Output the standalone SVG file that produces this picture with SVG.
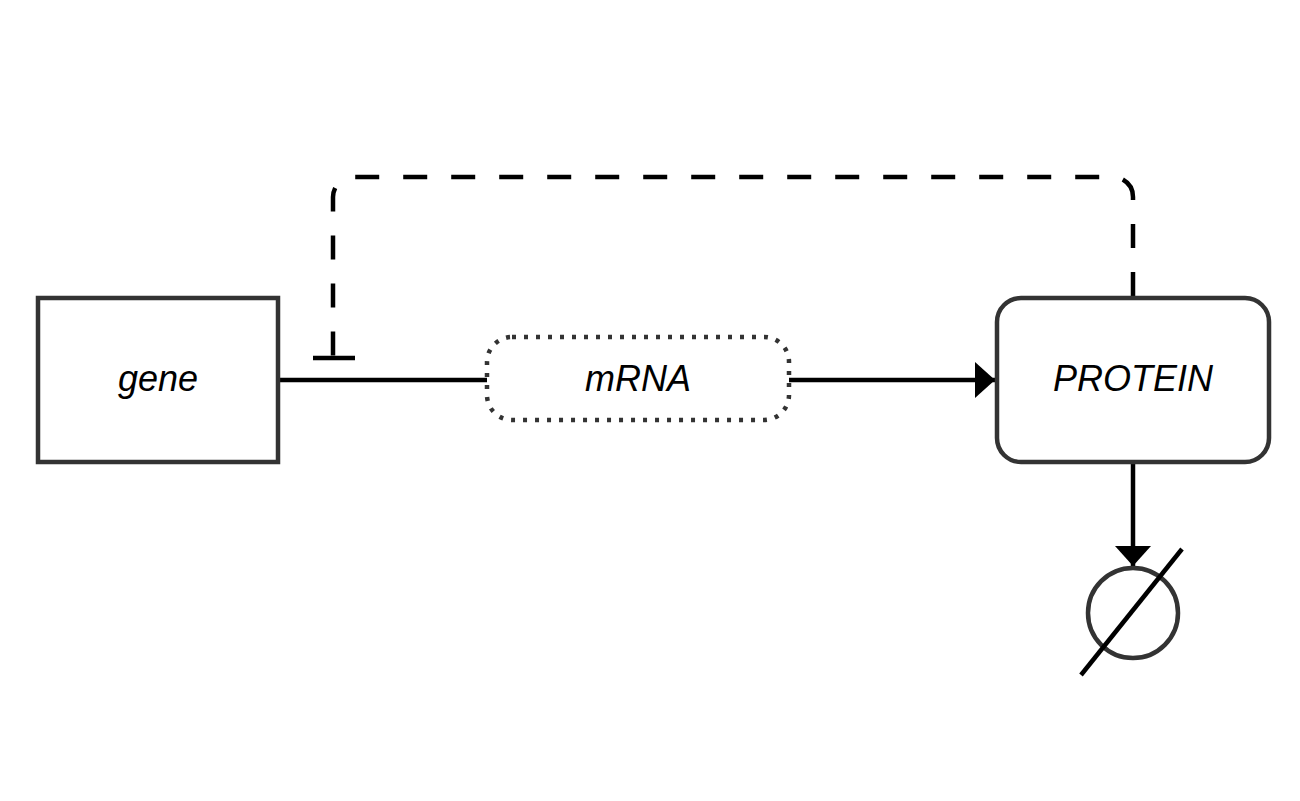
<svg xmlns="http://www.w3.org/2000/svg" width="1300" height="801" viewBox="0 0 1300 801">
<style>
.node{fill:#fff;stroke:#333;stroke-width:4.5}
.lbl{font-family:"Liberation Sans",Arial,sans-serif;font-style:italic;font-size:36px;fill:#000;text-anchor:middle}
.edge{fill:none;stroke:#000;stroke-width:4.5}
</style>
<defs>
<marker id="arrow" markerUnits="userSpaceOnUse" markerWidth="20" markerHeight="36" refX="20" refY="18" orient="auto">
<path d="M0,0 L20,18 L0,36 Z" fill="#000"/>
</marker>
</defs>
<rect width="1300" height="801" fill="#fff"/>
<g id="connectors">
<line class="edge" x1="278" y1="380" x2="487" y2="380"/>
<line class="edge" x1="789" y1="380" x2="995" y2="380" marker-end="url(#arrow)"/>
<path class="edge" d="M1133,296 L1133,197 A20,20 0 0 0 1113,177 L353,177 A20,20 0 0 0 333,197 L333,358" stroke-dasharray="24 24"/>
<line class="edge" x1="313" y1="358" x2="355" y2="358" stroke-width="5"/>
<line class="edge" x1="1133" y1="462" x2="1133" y2="566" marker-end="url(#arrow)"/>
</g>
<g id="gene">
<rect class="node" x="38" y="298" width="240" height="164"/>
<text class="lbl" x="158" y="391">gene</text>
</g>
<g id="mrna">
<rect class="node" x="487" y="337" width="302" height="83" rx="25" ry="25" stroke-dasharray="4 8"/>
<text class="lbl" x="638" y="391">mRNA</text>
</g>
<g id="protein">
<rect class="node" x="997" y="298" width="272" height="164" rx="24" ry="24"/>
<text class="lbl" x="1133" y="391">PROTEIN</text>
</g>
<g id="degradation">
<circle cx="1133" cy="613" r="45" fill="#fff" stroke="#333" stroke-width="4.5"/>
<line x1="1182" y1="549" x2="1081" y2="675" stroke="#000" stroke-width="4.5"/>
</g>
</svg>
